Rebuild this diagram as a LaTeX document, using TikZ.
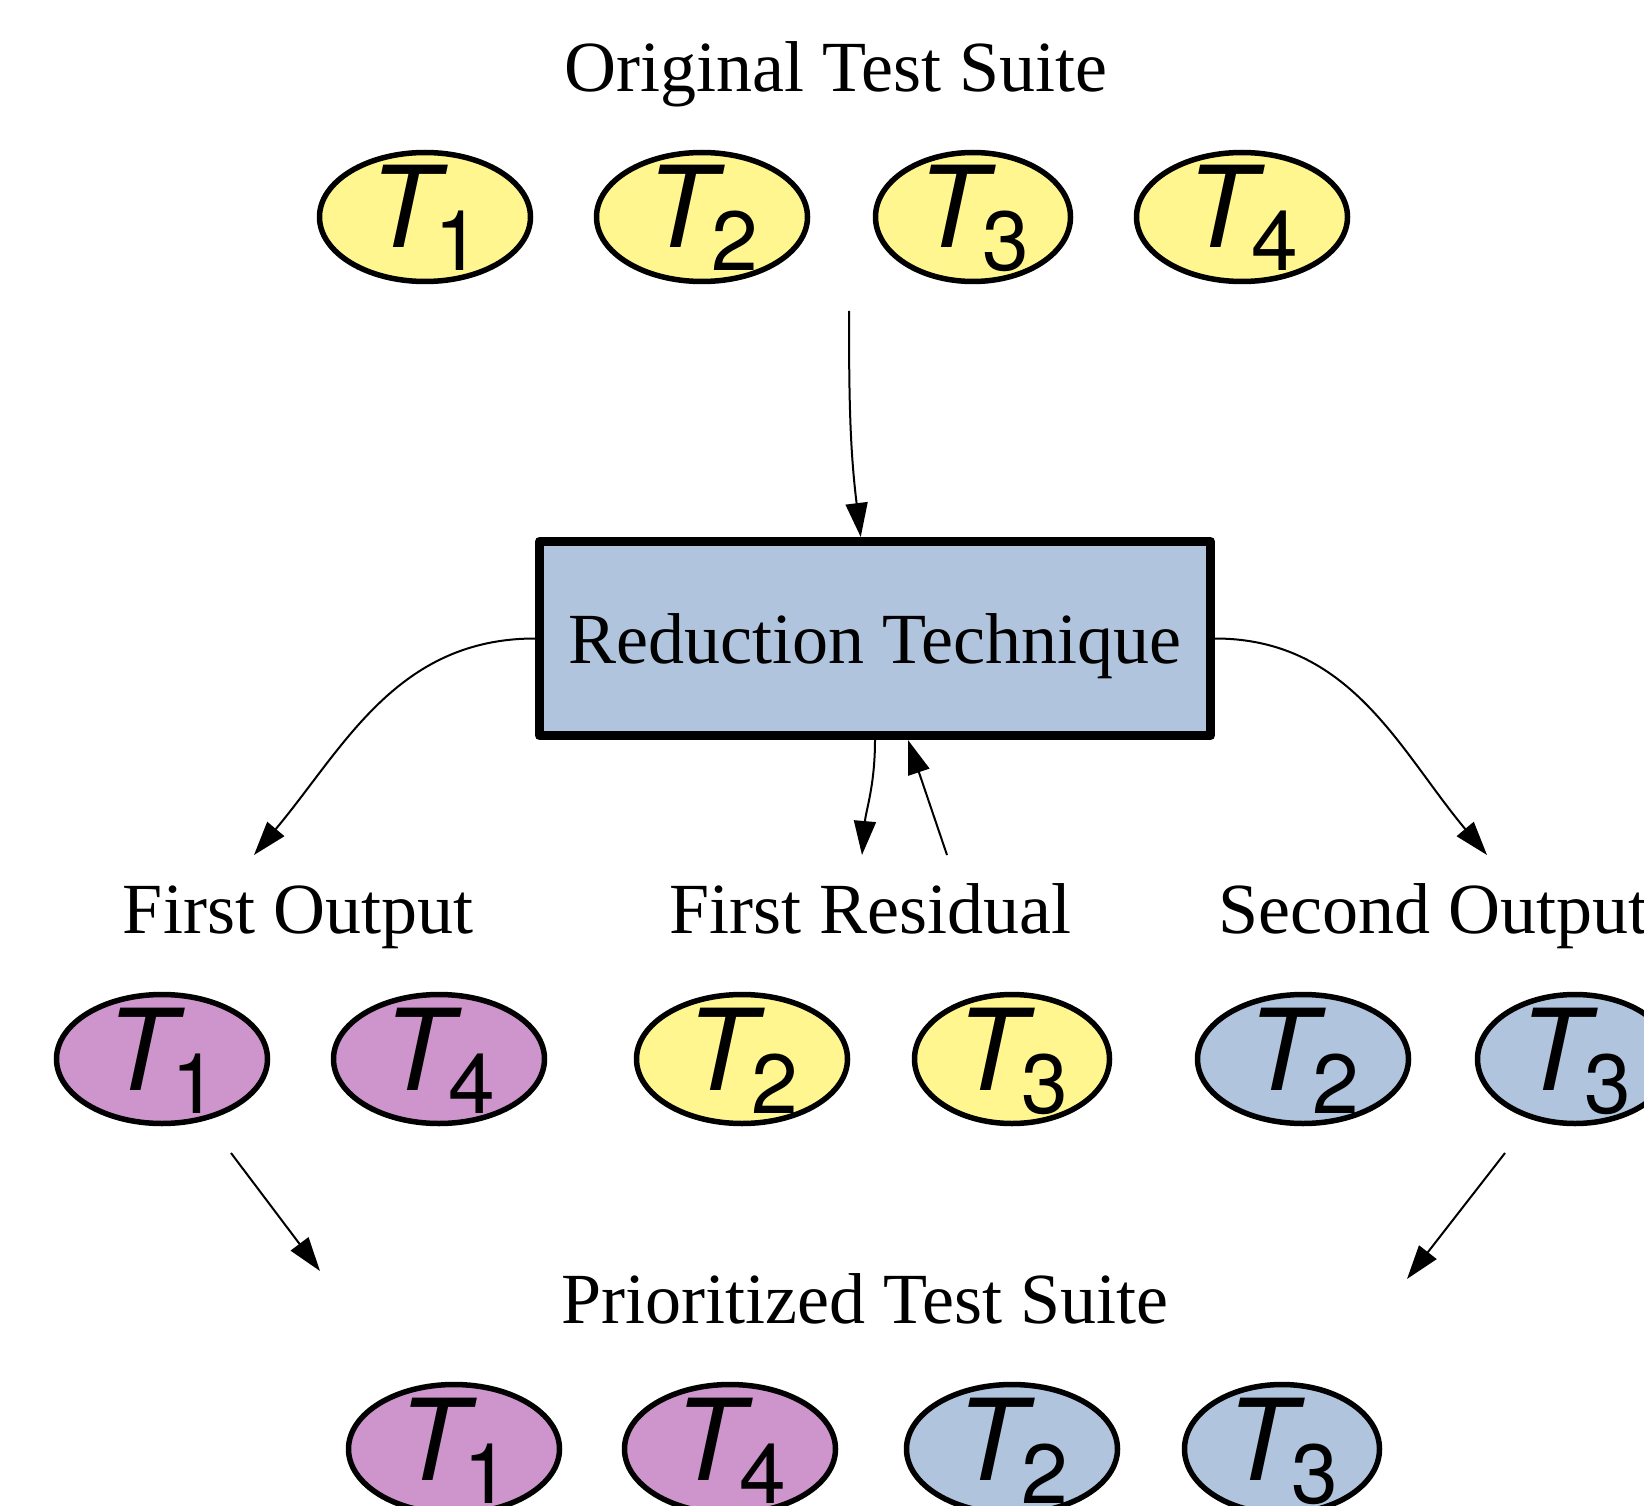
\documentclass[tikz,border=0pt]{standalone}
\usepackage{fontspec}
\setmainfont{Liberation Serif}
\newfontfamily\tfont{TeX Gyre Heros}
\usepackage{xcolor}
\usepackage{tikz}
\usetikzlibrary{arrows.meta}
\usetikzlibrary{shapes.geometric}
\definecolor{tyellow}{RGB}{255,246,143}
\definecolor{tpurple}{RGB}{206,148,204}
\definecolor{tblue}{RGB}{176,196,222}
\newcommand{\tlab}[1]{\raisebox{0pt}[70pt][8pt]{{\tfont\fontsize{113}{113}\selectfont\itshape T}\kern-4pt\raisebox{-23pt}{\tfont\fontsize{84}{84}\selectfont #1}}}
\tikzset{
    tnode/.style = {ellipse, draw=black, line width=5.5pt, inner sep=0pt, minimum width=211pt, minimum height=129pt},
    narrow/.style = {minimum width=195pt},
    yellow_node/.style = {tnode, fill=tyellow},
    purple_node/.style = {tnode, fill=tpurple},
    blue_node/.style = {tnode, fill=tblue},
    title/.style = {anchor=base, inner sep=0pt, font=\fontsize{72}{80}\selectfont},
    tech/.style = {rectangle, draw=black, fill=tblue, line width=9pt, line join=round, inner sep=0pt, minimum width=671pt, minimum height=194pt, font=\fontsize{72}{80}\selectfont},
    link/.style = {-{Triangle[length=34pt,width=22pt]}, line width=2pt}
}
\begin{document}
\begin{tikzpicture}[x=1pt,y=-1pt]
    \useasboundingbox (0,0) rectangle (1644,1506);
    \node [title] (orig) at (836,92) {Original Test Suite};
    \node [yellow_node] (o1) at (425,217) {\tlab{1}};
    \node [yellow_node] (o2) at (702,217) {\tlab{2}};
    \node [yellow_node, narrow] (o3) at (973,217) {\tlab{3}};
    \node [yellow_node] (o4) at (1242,217) {\tlab{4}};

    \node [tech] (red) at (875,638.5) {\raisebox{-8pt}[\height][\depth]{Reduction Technique}};

    \node [title] (fo) at (298,933) {First Output};
    \node [title] (fr) at (870,933) {First Residual};
    \node [title, anchor=base west] (so) at (1218,933) {Second Output};

    \node [purple_node] (f1) at (162,1059) {\tlab{1}};
    \node [purple_node] (f4) at (439,1059) {\tlab{4}};
    \node [yellow_node] (r2) at (742,1059) {\tlab{2}};
    \node [yellow_node, narrow] (r3) at (1012,1059) {\tlab{3}};
    \node [blue_node] (s2) at (1303,1059) {\tlab{2}};
    \node [blue_node, narrow] (s3) at (1575,1059) {\tlab{3}};

    \node [title] (prio) at (865,1323) {Prioritized Test Suite};
    \node [purple_node] (p1) at (454,1449) {\tlab{1}};
    \node [purple_node] (p4) at (730,1449) {\tlab{4}};
    \node [blue_node] (p2) at (1012,1449) {\tlab{2}};
    \node [blue_node, narrow] (p3) at (1282,1449) {\tlab{3}};

    \coordinate (in_top) at (849,311);
    \coordinate (to_fo) at (254,855);
    \coordinate (to_so) at (1487,855);
    \coordinate (to_fr) at (862,855);
    \coordinate (from_fr) at (947,855);
    \coordinate (fo_out) at (231,1153);
    \coordinate (fo_in) at (320,1271);
    \coordinate (so_out) at (1505,1153);
    \coordinate (so_in) at (1407,1279);

    \draw [link] (in_top) to[out=-90,in=97] (red.98);
    \draw [link] (red.west) to[out=180,in=50] (to_fo);
    \draw [link] (red.east) to[out=0,in=130] (to_so);
    \draw [link] (red.south) to[out=-90,in=85] (to_fr);
    \draw [link] (from_fr) -- (red.-72);
    \draw [link] (fo_out) -- (fo_in);
    \draw [link] (so_out) -- (so_in);
\end{tikzpicture}
\end{document}
